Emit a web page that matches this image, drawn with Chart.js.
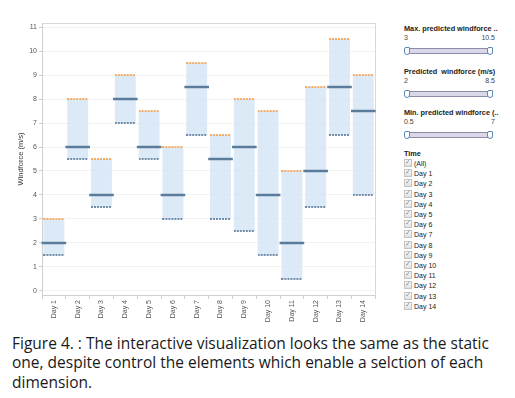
<!DOCTYPE html>
<html>
<head>
<meta charset="utf-8">
<script src="https://cdn.jsdelivr.net/npm/chart.js@4.4.1/dist/chart.umd.min.js"></script>
<style>
  body { margin: 0; background: #fff; width: 515px; height: 398px; overflow: hidden; position: relative; font-family: "Liberation Sans", Arial, sans-serif; }
  #chartBox { position: absolute; left: 0; top: 0; width: 390px; height: 325px; }
  .panel { position: absolute; left: 404px; top: 0; width: 91px; font-size: 7px; color: #333; }
  .ttl { position: absolute; left: 0; font-weight: bold; font-size: 7.3px; white-space: nowrap; color: #222; }
  .lo, .hi { position: absolute; color: #444; }
  .lo { left: 0; }
  .hi { right: 0; }
  .track { position: absolute; left: 2px; width: 85px; height: 4px; background: #d8d8ea; border: 1px solid #8c8ca6; border-radius: 1px; }
  .knob { position: absolute; width: 4px; height: 6px; background: #fff; border: 1px solid #5c88bd; border-radius: 2px 1px 3px 3px; }
  .cb { position: absolute; left: 0; height: 9px; line-height: 9px; white-space: nowrap; color: #222; }
  .box { display: inline-block; width: 6px; height: 6px; border: 1px solid #c4c4c4; background: linear-gradient(#fbfbfb, #e0e0e0); vertical-align: -1px; margin-right: 2px; position: relative; }
  .box::after { content: "\2713"; position: absolute; left: 0; top: -2px; font-size: 7px; color: #8f8f8f; font-family: "DejaVu Sans"; }
  #caption { position: absolute; left: 12px; top: 334px; width: 500px; font-family: "Open Sans", sans-serif; font-size: 15.5px; line-height: 19.3px; color: #1a1a1a; }
</style>
</head>
<body>
<div id="chartBox"><canvas id="chart" width="390" height="325"></canvas></div>
<div class="panel" id="panel"></div>
<div id="caption">Figure 4. : The interactive visualization looks the same as the static one, despite control the elements which enable a selction of each dimension.</div>
<script>
const days = ['Day 1', 'Day 2', 'Day 3', 'Day 4', 'Day 5', 'Day 6', 'Day 7',
  'Day 8', 'Day 9', 'Day 10', 'Day 11', 'Day 12', 'Day 13', 'Day 14'];
const maxWind = [3, 8, 5.5, 9, 7.5, 6, 9.5, 6.5, 8, 7.5, 5, 8.5, 10.5, 9];
const predWind = [2, 6, 4, 8, 6, 4, 8.5, 5.5, 6, 4, 2, 5, 8.5, 7.5];
const minWind = [1.5, 5.5, 3.5, 7, 5.5, 3, 6.5, 3, 2.5, 1.5, 0.5, 3.5, 6.5, 4];
const yTicks = [0, 1, 2, 3, 4, 5, 6, 7, 8, 9, 10, 11];

// little dotted strip used as the point style for the max / min edges
function dotted(color, w) {
  const c = document.createElement('canvas');
  c.width = w;
  c.height = 2;
  const g = c.getContext('2d');
  g.fillStyle = color;
  g.globalAlpha = 0.85;
  for (let x = 0; x < w; x += 3) g.fillRect(x, 0, 2, 2);
  return c;
}

const axisFont = { family: 'Liberation Sans', size: 7 };

new Chart(document.getElementById('chart'), {
  type: 'bar',
  data: {
    labels: days,
    datasets: [
      {
        label: 'range',
        data: days.map((d, i) => [minWind[i], maxWind[i]]),
        backgroundColor: 'rgba(208,227,244,0.75)',
        borderWidth: 0,
        barPercentage: 0.88,
        categoryPercentage: 1,
        order: 2
      },
      {
        type: 'line',
        label: 'Max. predicted windforce',
        data: maxWind,
        showLine: false,
        pointStyle: dotted('#f4a24f', 21),
        order: 1
      },
      {
        type: 'line',
        label: 'Min. predicted windforce',
        data: minWind,
        showLine: false,
        pointStyle: dotted('#5d7d9c', 21),
        order: 1
      },
      {
        type: 'line',
        label: 'Predicted windforce',
        data: predWind,
        showLine: false,
        pointStyle: 'line',
        pointRadius: 12.3,
        pointBorderWidth: 2.5,
        pointBorderColor: '#5b7b9a',
        order: 0
      }
    ]
  },
  options: {
    responsive: false,
    devicePixelRatio: 1,
    animation: false,
    events: [],
    layout: { padding: { top: 23, right: 7, left: 0, bottom: 0 } },
    plugins: { legend: { display: false }, tooltip: { enabled: false } },
    scales: {
      x: {
        offset: true,
        grid: { display: true, drawOnChartArea: false, offset: true, tickLength: 4, tickColor: '#cfcfcf' },
        border: { color: '#cfcfcf' },
        ticks: { font: axisFont, color: '#555', minRotation: 90, maxRotation: 90, autoSkip: false, padding: 1 },
        afterFit: (s) => { s.height = 30; }
      },
      x2: {
        type: 'category',
        position: 'top',
        grid: { display: false, drawTicks: false },
        border: { display: true, color: '#d8d8d8' },
        ticks: { display: false },
        afterFit: (s) => { s.height = 0; }
      },
      y: {
        min: -0.17,
        max: 11.17,
        afterBuildTicks: (s) => { s.ticks = yTicks.map(v => ({ value: v })); },
        grid: { color: '#f3f3f3', tickLength: 3, tickColor: '#cfcfcf' },
        border: { color: '#cfcfcf' },
        ticks: { font: axisFont, color: '#555', padding: 2 },
        title: { display: true, text: 'Windforce (m/s)', font: { family: 'Liberation Sans', size: 7.5 }, color: '#333', padding: { top: 16, bottom: 0 } },
        afterFit: (s) => { s.width = 42; }
      },
      y2: {
        position: 'right',
        min: -0.17,
        max: 11.17,
        grid: { display: false, drawTicks: false },
        border: { display: true, color: '#d8d8d8' },
        ticks: { display: false },
        afterFit: (s) => { s.width = 0; }
      }
    }
  }
});

// filter panel on the right, ranges taken from the series
const panel = document.getElementById('panel');
const filters = [
  { title: 'Max. predicted windforce ..', vals: maxWind, top: 24 },
  { title: 'Predicted  windforce (m/s)', vals: predWind, top: 67 },
  { title: 'Min. predicted windforce (..', vals: minWind, top: 108 }
];
let html = '';
filters.forEach(f => {
  const lo = Math.min(...f.vals), hi = Math.max(...f.vals);
  html += `<div class="ttl" style="top:${f.top}px">${f.title.replace(/ /g, '&nbsp;')}</div>`;
  html += `<div class="lo" style="top:${f.top + 10}px">${lo}</div><div class="hi" style="top:${f.top + 10}px">${hi}</div>`;
  html += `<div class="track" style="top:${f.top + 23.5}px"></div>`;
  html += `<div class="knob" style="left:0px;top:${f.top + 22.5}px"></div><div class="knob" style="left:83px;top:${f.top + 22.5}px"></div>`;
});
html += `<div class="ttl" style="top:149px">Time</div>`;
['(All)'].concat(days).forEach((d, i) => {
  html += `<div class="cb" style="top:${159 + i * 10.2}px"><span class="box"></span>${d}</div>`;
});
panel.innerHTML = html;
</script>
</body>
</html>
